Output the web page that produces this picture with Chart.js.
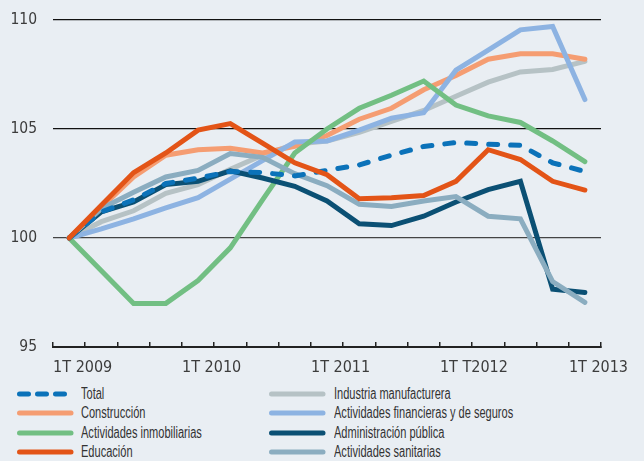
<!DOCTYPE html>
<html>
<head>
<meta charset="utf-8">
<script src="https://cdn.jsdelivr.net/npm/chart.js@4.4.0/dist/chart.umd.min.js"></script>
<style>
  body { margin:0; background:#e9eef3; }
  #caja { position:relative; width:644px; height:461px; background:#e9eef3; overflow:hidden;
          font-family:"Liberation Sans",sans-serif; color:#333; }
  #grafico { position:absolute; left:0; top:0; width:644px; height:384px; }
  .item { position:absolute; height:16px; font-size:16px; line-height:16px; white-space:nowrap; }
  .item svg { position:absolute; left:0; top:5px; }
  .item span { position:absolute; top:0; transform:scaleX(0.69); transform-origin:0 50%; }
</style>
</head>
<body>
<div id="caja">
  <div id="grafico"><canvas id="chart"></canvas></div>
  <div id="leyenda"></div>
</div>
<script>
// trimestres 1T 2009 - 1T 2013 (indice 1T 2009 = 100)
const etiquetas = ['1T 2009','','','','1T 2010','','','','1T 2011','','','','1T T2012','','','','1T 2013'];

const total          = [100, 101.2, 101.75, 102.5, 102.75, 103.05, 103.0, 102.85, 103.1, 103.35, 103.8, 104.2, 104.38, 104.3, 104.25, 103.45, 103.05];
const industria      = [100, 100.75, 101.25, 102.05, 102.45, 103.15, 103.8, 104.3, 104.45, 104.85, 105.35, 105.85, 106.5, 107.15, 107.62, 107.73, 108.1];
const construccion   = [100, 101.4, 102.8, 103.8, 104.05, 104.12, 103.9, 104.2, 104.7, 105.45, 105.95, 106.8, 107.45, 108.2, 108.45, 108.45, 108.2];
const financieras    = [100, 100.42, 100.88, 101.38, 101.85, 102.7, 103.55, 104.4, 104.45, 104.95, 105.5, 105.75, 107.7, 108.62, 109.55, 109.7, 106.35];
const inmobiliarias  = [100, 98.5, 97.0, 97.0, 98.05, 99.55, 101.75, 103.9, 105.0, 105.95, 106.55, 107.2, 106.1, 105.6, 105.3, 104.45, 103.5];
const administracion = [100, 101.2, 101.65, 102.45, 102.6, 103.08, 102.75, 102.37, 101.7, 100.65, 100.57, 101.0, 101.65, 102.22, 102.6, 97.65, 97.5];
const educacion      = [100, 101.5, 103.0, 103.9, 104.95, 105.25, 104.35, 103.45, 102.9, 101.8, 101.85, 101.95, 102.6, 104.05, 103.6, 102.6, 102.2];
const sanitarias     = [100, 101.35, 102.1, 102.8, 103.1, 103.87, 103.7, 102.95, 102.4, 101.55, 101.45, 101.7, 101.9, 101.0, 100.88, 98.0, 97.05];

const nombres = ['Total','Construcción','Actividades inmobiliarias','Educación',
                 'Industria manufacturera','Actividades financieras y de seguros','Administración pública','Actividades sanitarias'];
const valores = [total, construccion, inmobiliarias, educacion, industria, financieras, administracion, sanitarias];
const colores = ['#0b72b9','#f59d72','#72bf83','#e35417','#b6c2c5','#8db3e2','#0b5074','#8badc0'];
// orden de dibujo: el primero queda encima
const capas = [3, 0, 7, 6, 2, 5, 1, 4];

const datasets = capas.map(i => ({
  label: nombres[i],
  data: valores[i],
  borderColor: colores[i],
  backgroundColor: colores[i],
  borderWidth: 5,
  borderCapStyle: 'round',
  borderJoinStyle: 'miter',
  borderDash: i == 0 ? [9, 13] : [],
  pointRadius: 0,
  tension: 0,
  fill: false
}));

const fuente = '"DejaVu Sans Condensed",sans-serif';

new Chart(document.getElementById('chart'), {
  type: 'line',
  data: { labels: etiquetas, datasets: datasets },
  options: {
    responsive: true,
    maintainAspectRatio: false,
    animation: false,
    layout: { padding: { top: 20, right: 43, left: 0, bottom: 0 } },
    plugins: { legend: { display: false }, tooltip: { enabled: false } },
    scales: {
      x: {
        offset: true,
        grid: { offset: true, drawOnChartArea: false, drawTicks: true, tickLength: -5, color: '#222', lineWidth: 1.5 },
        border: { display: true, color: '#222', width: 2 },
        ticks: { autoSkip: false, maxRotation: 0, align: 'start', labelOffset: -16, padding: 16,
                 color: '#3c3c3c', font: { family: fuente, size: 16 } },
        afterFit: s => { s.height = 37; s.paddingLeft = 0; s.paddingRight = 0; }
      },
      y: {
        min: 95, max: 110,
        ticks: { stepSize: 5, padding: 16, color: '#3c3c3c', font: { family: fuente, size: 15.5 } },
        grid: { drawTicks: false, lineWidth: 1.3,
                color: c => c.tick.value == 95 ? 'rgba(0,0,0,0)' : (c.tick.value == 100 ? '#444' : '#111') },
        border: { display: false },
        afterFit: s => { s.width = 53; s.paddingTop = 0; s.paddingBottom = 0; }
      }
    }
  }
});

// leyenda en dos columnas
var leyenda = document.getElementById('leyenda');
nombres.forEach((n, i) => {
  var col = Math.floor(i / 4), fila = i % 4;
  var d = document.createElement('div');
  d.className = 'item';
  d.style.left = (col == 0 ? 17 : 269) + 'px';
  d.style.top = (386 + fila * 19.3) + 'px';
  var dash = i == 0 ? ' stroke-dasharray="9 9"' : '';
  d.innerHTML = '<svg width="57" height="6"><line x1="2.5" y1="3" x2="54" y2="3" stroke="' + colores[i] +
    '" stroke-width="5" stroke-linecap="round"' + dash + '/></svg><span style="left:' + (col == 0 ? 64 : 65) + 'px">' + n + '</span>';
  leyenda.appendChild(d);
});
</script>
</body>
</html>
